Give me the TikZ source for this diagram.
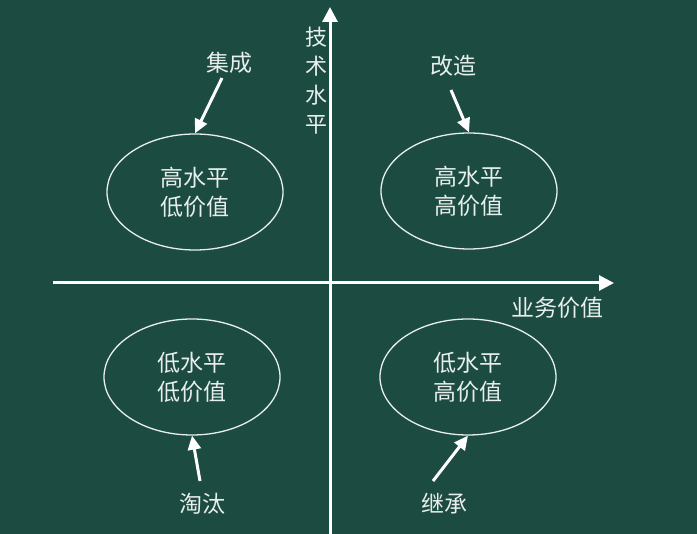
\documentclass[tikz,border=0pt]{standalone}
\usepackage{fontspec}
\setmainfont{Noto Sans CJK SC}
\usetikzlibrary{arrows.meta,shapes.geometric}
\definecolor{board}{RGB}{27,75,65}
\definecolor{chalk}{RGB}{232,238,235}
\tikzset{
  quad/.style={draw=chalk,line width=1.3pt,ellipse,minimum width=176pt,minimum height=116pt,inner sep=0pt,
    text=chalk,align=center,font=\fontsize{23}{29}\selectfont},
  lbl/.style={text=chalk,font=\fontsize{23}{28}\selectfont,inner sep=0pt},
  axis/.style={draw=white,line width=3pt,-{Triangle[length=15pt,width=15pt]}},
  pointer/.style={draw=white,line width=3pt,-{Triangle[length=14pt,width=13pt]}}
}
\begin{document}
\begin{tikzpicture}[x=1pt,y=-1pt]
\fill[board] (0,0) rectangle (697,534);
\useasboundingbox (0,0) rectangle (697,534);
% axes
\coordinate (xs) at (53,283);
\coordinate (xe) at (614,283);
\coordinate (ys) at (330,534);
\coordinate (ye) at (330,7);
\draw[axis] (xs) -- (xe);
\draw[axis] (ys) -- (ye);
\node[lbl,align=center,font=\fontsize{22}{29}\selectfont] (yl) at (316,81) {技\\术\\水\\平};
\node[lbl] (xl) at (557,308) {业务价值};
% ellipses
\node[quad] (tl) at (195,192) {高水平\\低价值};
\node[quad] (tr) at (469,191) {高水平\\高价值};
\node[quad] (bl) at (192,377) {低水平\\低价值};
\node[quad] (br) at (468,377) {低水平\\高价值};
% labels
\node[lbl] (jc) at (229,63) {集成};
\node[lbl] (gz) at (453,66) {改造};
\node[lbl] (tt) at (202,504) {淘汰};
\node[lbl] (jch) at (444,504) {继承};
\coordinate (jcs) at (222,78);
\coordinate (gzs) at (451,90);
\coordinate (tts) at (200,481);
\coordinate (jchs) at (433,481);
\draw[pointer] (jcs) -- (tl.north);
\draw[pointer] (gzs) -- (tr.north);
\draw[pointer] (tts) -- (bl.south);
\draw[pointer] (jchs) -- (br.south);
\end{tikzpicture}
\end{document}
